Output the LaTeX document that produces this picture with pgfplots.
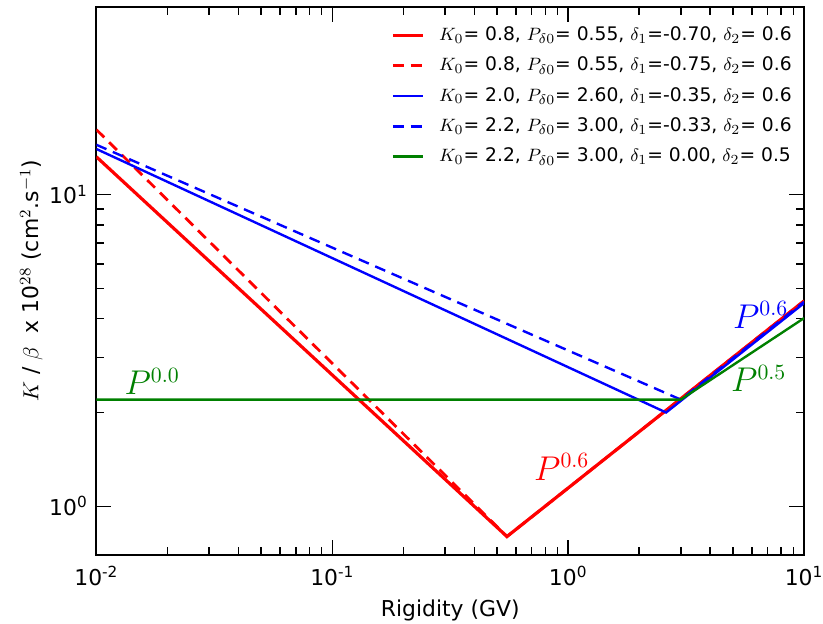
\documentclass[border=0pt]{standalone}
\usepackage{fontspec}
\setmainfont{DejaVu Sans}
\usepackage{pgfplots}
\pgfplotsset{compat=1.18}
\definecolor{mplgreen}{rgb}{0,0.5,0}

\begin{document}
\begin{tikzpicture}
\begin{axis}[
    scale only axis,
    width=356pt, height=275.5pt,
    xmode=log, ymode=log,
    xmin=0.01, xmax=10,
    ymin=0.7, ymax=40,
    xtick={0.01,0.1,1,10},
    xticklabels={10\textsuperscript{-2},10\textsuperscript{-1},10\textsuperscript{0},10\textsuperscript{1}},
    ytick={1,10},
    yticklabels={10\textsuperscript{0},10\textsuperscript{1}},
    axis line style={line width=1pt},
    every tick/.style={black, line width=0.8pt},
    major tick length=7.5pt,
    minor tick length=4pt,
    tick label style={font=\fontsize{11}{13}\selectfont},
    xticklabel style={anchor=base, yshift=-15.5pt},
    yticklabel style={xshift=-0.8pt},
    label style={font=\fontsize{11}{13}\selectfont},
    xlabel={Rigidity (GV)},
    xlabel style={at={(axis description cs:0.5,0)}, anchor=base, yshift=-31pt},
    ylabel={$K$ / $\beta$\ \ x 10$^{28}$ (cm$^2$.s$^{-1}$)},
    ylabel style={at={(axis description cs:-0.092,0.5)}, anchor=center},
    legend style={at={(0.99,0.976)}, anchor=north east, draw=none, fill=none,
        inner sep=0pt, row sep=0.25pt,
        font=\fontsize{9.4}{11.5}\selectfont,
        nodes={text height=7.5pt, text depth=2.5pt, inner sep=2.5pt}},
    legend cell align=left,
    legend image code/.code={
        \draw[#1] (0pt,0pt) -- (15pt,0pt);
        \path (20pt,0pt);
    },
]

\addplot[red, line width=1.6pt] coordinates {
    (0.01,13.22) (0.55,0.8) (10,4.560)
};
\addlegendentry{$K_0$= 0.8, $P_{\delta0}$= 0.55, $\delta_1$=-0.70, $\delta_2$= 0.6}

\addplot[red, line width=1.4pt, dash pattern=on 5.5pt off 3.5pt] coordinates {
    (0.01,16.16) (0.55,0.8) (10,4.560)
};
\addlegendentry{$K_0$= 0.8, $P_{\delta0}$= 0.55, $\delta_1$=-0.75, $\delta_2$= 0.6}

\addplot[blue, line width=1.2pt] coordinates {
    (0.01,14.01) (2.6,2.0) (10,4.488)
};
\addlegendentry{$K_0$= 2.0, $P_{\delta0}$= 2.60, $\delta_1$=-0.35, $\delta_2$= 0.6}

\addplot[blue, line width=1.2pt, dash pattern=on 5.5pt off 3.5pt] coordinates {
    (0.01,14.45) (3.0,2.2) (10,4.531)
};
\addlegendentry{$K_0$= 2.2, $P_{\delta0}$= 3.00, $\delta_1$=-0.33, $\delta_2$= 0.6}

\addplot[mplgreen, line width=1.2pt] coordinates {
    (0.01,2.2) (3.0,2.2) (10,4.017)
};
\addlegendentry{$K_0$= 2.2, $P_{\delta0}$= 3.00, $\delta_1$= 0.00, $\delta_2$= 0.5}

\node[mplgreen, anchor=base west, inner sep=0pt, font=\fontsize{16}{18}\selectfont] at (axis cs:0.01312,2.28) {$P^{0.0}$};
\node[red, anchor=base west, inner sep=0pt, font=\fontsize{16}{18}\selectfont] at (axis cs:0.7145,1.214) {$P^{0.6}$};
\node[blue, anchor=base west, inner sep=0pt, font=\fontsize{16}{18}\selectfont] at (axis cs:4.98,3.73) {$P^{0.6}$};
\node[mplgreen, anchor=base west, inner sep=0pt, font=\fontsize{16}{18}\selectfont] at (axis cs:4.89,2.334) {$P^{0.5}$};

\end{axis}
\pgfresetboundingbox
\path ([shift={(-48.5pt,-34.5pt)}]current axis.south west) rectangle ([shift={(9.5pt,3.5pt)}]current axis.north east);
\end{tikzpicture}
\end{document}
